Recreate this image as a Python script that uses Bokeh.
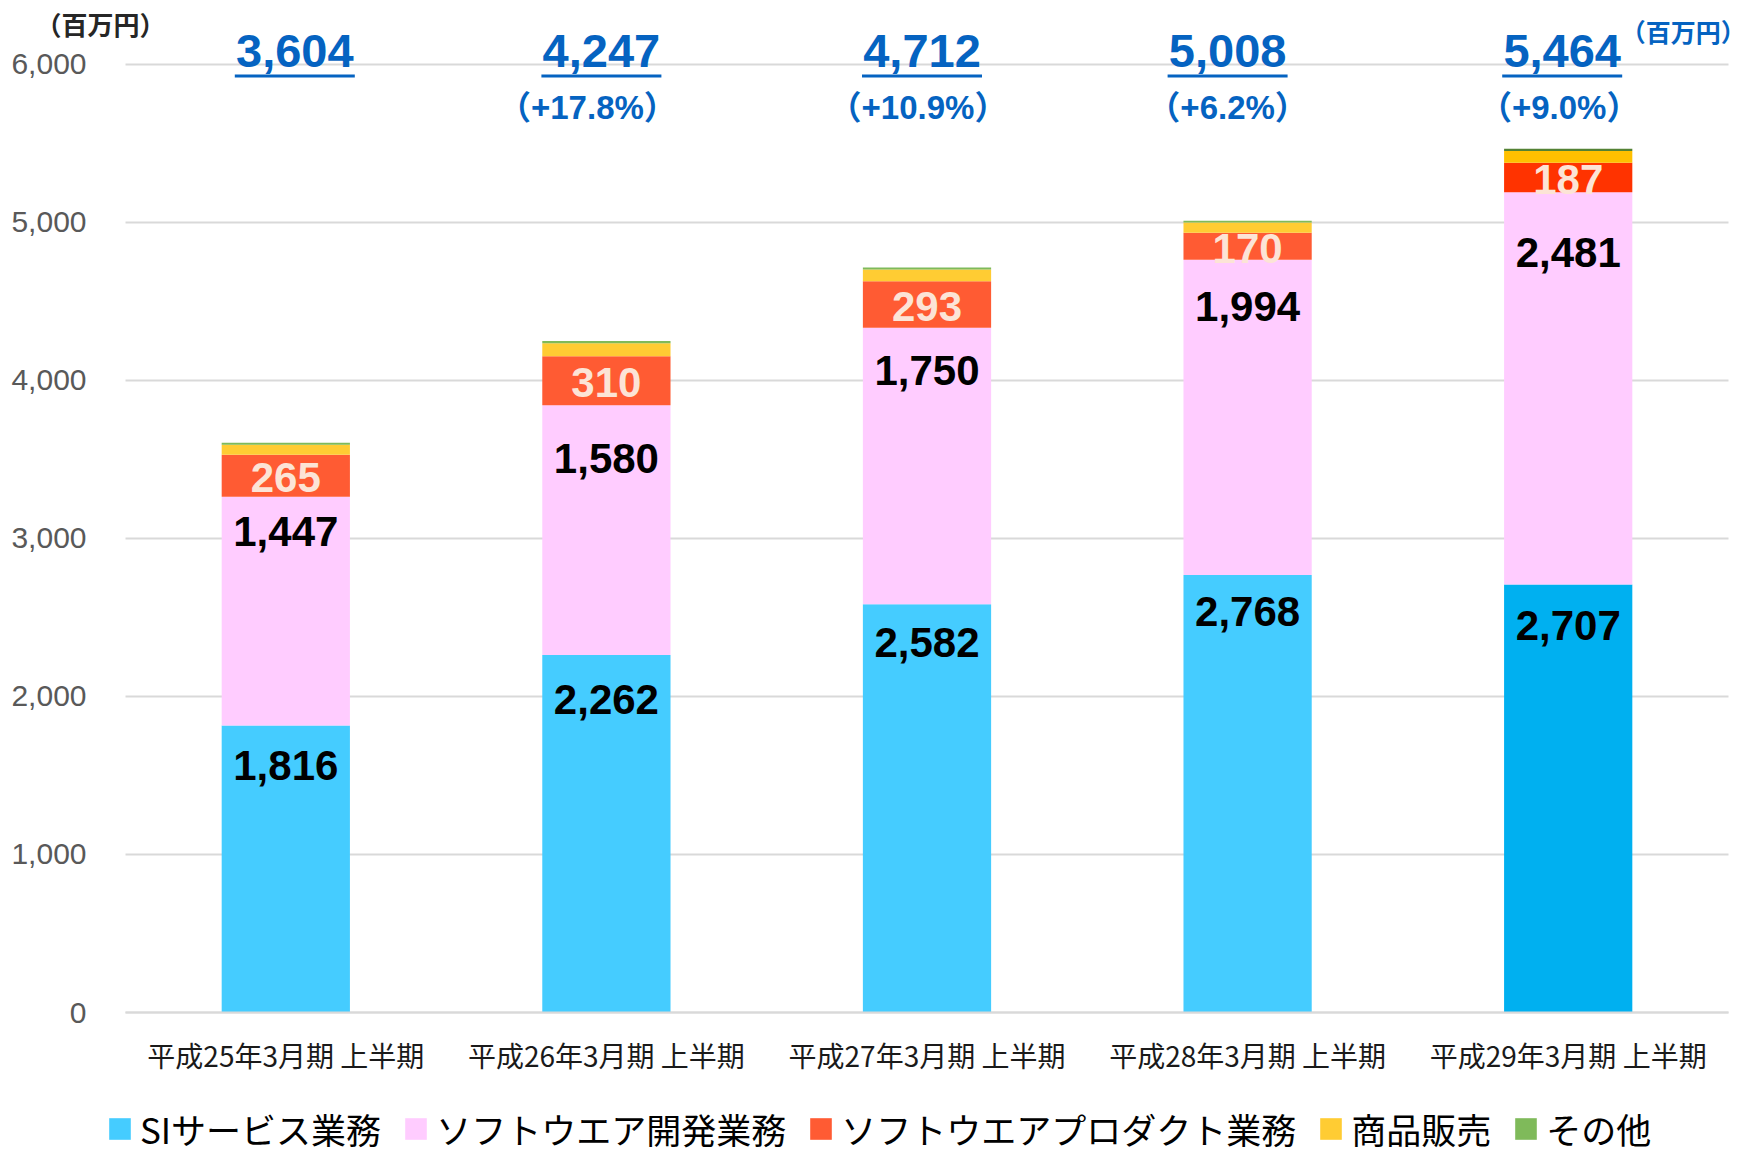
import numpy as np
from bokeh.plotting import figure
from bokeh.models import (Range1d, FixedTicker, Legend, LegendItem, Grid,
                          ColumnDataSource, NumeralTickFormatter)
from bokeh.core.properties import value
from bokeh.embed import file_html
from bokeh.resources import INLINE

# ---------------- data ----------------
periods = ["平成25年3月期 上半期", "平成26年3月期 上半期", "平成27年3月期 上半期",
           "平成28年3月期 上半期", "平成29年3月期 上半期"]
series_names = ["SIサービス業務", "ソフトウエア開発業務", "ソフトウエアプロダクト業務", "商品販売", "その他"]
si_service = [1816, 2262, 2582, 2768, 2707]
software_dev = [1447, 1580, 1750, 1994, 2481]
software_product = [265, 310, 293, 170, 187]
goods_sales = [63, 82, 75, 65, 74]
others = [13, 13, 12, 11, 15]
growth_pct = [17.8, 10.9, 6.2, 9.0]          # for periods 2..5
y_ticks = [0, 1000, 2000, 3000, 4000, 5000, 6000]
unit_label = "（百万円）"

# ---------------- styles ----------------
si_colors = ["#45CCFF"] * 4 + ["#00B0F0"]
dev_colors = ["#FFCCFF"] * 5
prod_colors = ["#FF5B33"] * 4 + ["#FF3300"]
goods_colors = ["#FFCC33"] * 4 + ["#FFC000"]
other_colors = ["#7FBA5A"] * 4 + ["#548235"]
si_label_dy = [40, 45, 38, 37, 41]      # px below segment top
dev_label_dy = [35, 53, 43, 47, 60]
total_label_dx = [9, -5, -5, -20, -6]   # px shift of the total labels
growth_label_dx = [-19, -9, -20, -9]
BLUE = "#0563C1"

# layout geometry (pixels)
W, H = 1746, 1154
AXIS_X_PX, GRID_RIGHT_PX = 125, 1728
ZERO_PX, TOP_TICK_PX = 1012, 63.5
n = len(periods)
px_per_x = (GRID_RIGHT_PX - AXIS_X_PX) / n
px_per_y = (ZERO_PX - TOP_TICK_PX) / y_ticks[-1]
X_START, X_END = -AXIS_X_PX / px_per_x, (W - AXIS_X_PX) / px_per_x
Y_START, Y_END = -(H - ZERO_PX) / px_per_y, ZERO_PX / px_per_y

xs = [i + 0.5 for i in range(n)]

p = figure(width=W, height=H, x_range=Range1d(X_START, X_END), y_range=Range1d(Y_START, Y_END),
           output_backend="svg", toolbar_location=None, title=None,
           min_border_left=0, min_border_right=0, min_border_top=0, min_border_bottom=0)
p.outline_line_color = None
p.background_fill_color = "white"
p.border_fill_color = "white"

# axes (drawn inside the frame at x=0 / y=0)
p.yaxis.fixed_location = 0
p.yaxis.ticker = FixedTicker(ticks=y_ticks)
p.yaxis.formatter = NumeralTickFormatter(format="0,0")
p.yaxis.axis_line_color = None
p.yaxis.major_tick_line_color = None
p.yaxis.minor_tick_line_color = None
p.yaxis.major_tick_out = 0
p.yaxis.major_label_standoff = 39
p.yaxis.major_label_text_font = "Liberation Sans"
p.yaxis.major_label_text_font_size = "30px"
p.yaxis.major_label_text_color = "#595959"

p.xaxis.fixed_location = 0
p.xaxis.ticker = FixedTicker(ticks=xs)
p.xaxis.major_label_overrides = {x: lab for x, lab in zip(xs, periods)}
p.xaxis.bounds = (0, n)
p.xaxis.axis_line_color = "#D9D9D9"
p.xaxis.axis_line_width = 2
p.xaxis.major_tick_line_color = None
p.xaxis.minor_tick_line_color = None
p.xaxis.major_tick_out = 0
p.xaxis.major_label_standoff = 22
p.xaxis.major_label_text_font = "Noto Sans CJK JP"
p.xaxis.major_label_text_font_size = "28px"
p.xaxis.major_label_text_color = "#1A1A1A"

p.xgrid.grid_line_color = None
p.ygrid.ticker = FixedTicker(ticks=y_ticks)
p.ygrid.grid_line_color = "#D9D9D9"
p.ygrid.grid_line_width = 2
if "cross_bounds" in Grid.properties():
    p.ygrid.cross_bounds = (0, n)
else:
    p.ygrid.grid_line_color = None
    p.segment(x0=0, x1=n, y0=y_ticks, y1=y_ticks, line_color="#D9D9D9", line_width=2)

# stacked bars
series = [si_service, software_dev, software_product, goods_sales, others]
colors = [si_colors, dev_colors, prod_colors, goods_colors, other_colors]
bottom = np.zeros(n)
items, tops, bottoms = [], [], []
for name, vals, cols in zip(series_names, series, colors):
    top = bottom + np.array(vals, dtype=float)
    src = ColumnDataSource(dict(x=xs, bottom=bottom, top=top, color=cols))
    r = p.vbar(x="x", bottom="bottom", top="top", width=0.40, source=src,
               fill_color="color", line_color=None)
    items.append(LegendItem(label=name, renderers=[r], index=0))
    bottoms.append(bottom)
    tops.append(top)
    bottom = top
totals = bottom


def fmt(v):
    return "{:,}".format(int(round(v)))


lab_kw = dict(text_align="center", text_baseline="middle", text_font=value("Liberation Sans"),
              text_font_style="bold", text_font_size="42px")
p.text(x=xs, y=tops[0], text=[fmt(v) for v in si_service], y_offset=si_label_dy,
       text_color="black", **lab_kw)
p.text(x=xs, y=tops[1], text=[fmt(v) for v in software_dev], y_offset=dev_label_dy,
       text_color="black", **lab_kw)
p.text(x=xs, y=(bottoms[2] + tops[2]) / 2, text=[fmt(v) for v in software_product],
       y_offset=2, text_color="#FCE4D6", **lab_kw)

# totals on top (underlined) and growth rates
y_top_tick = y_ticks[-1]
p.text(x=xs, y=[y_top_tick] * n, text=[fmt(v) for v in totals],
       x_offset=total_label_dx, y_offset=-13,
       text_align="center", text_baseline="middle", text_font=value("Liberation Sans"),
       text_font_style="bold", text_font_size="47px", text_color=BLUE)
ul_y = y_top_tick - 12 / px_per_y
p.segment(x0=[x + (dx - 60) / px_per_x for x, dx in zip(xs, total_label_dx)],
          x1=[x + (dx + 60) / px_per_x for x, dx in zip(xs, total_label_dx)],
          y0=[ul_y] * n, y1=[ul_y] * n, line_color=BLUE, line_width=3)
p.text(x=xs[1:], y=[y_top_tick] * len(growth_pct),
       text=["（+{:.1f}%）".format(g) for g in growth_pct],
       x_offset=growth_label_dx, y_offset=43,
       text_align="center", text_baseline="middle",
       text_font=value("Liberation Sans, Noto Sans CJK JP"),
       text_font_style="bold", text_font_size="33px", text_color=BLUE)

# unit labels
p.text(x=[0], y=[y_top_tick], text=[unit_label], x_offset=-25, y_offset=-41,
       text_align="center", text_baseline="middle", text_font=value("Noto Sans CJK JP"),
       text_font_style="bold", text_font_size="26px", text_color="#262626")
p.text(x=[xs[-1]], y=[y_top_tick], text=[unit_label], x_offset=115, y_offset=-33,
       text_align="center", text_baseline="middle", text_font=value("Noto Sans CJK JP"),
       text_font_style="bold", text_font_size="25px", text_color=BLUE)

legend = Legend(items=items, orientation="horizontal", location=(106, 0),
                label_text_font="Noto Sans CJK JP", label_text_font_size="35px",
                label_text_color="black", glyph_width=27, glyph_height=27,
                label_standoff=7, spacing=21, padding=0, margin=0,
                border_line_color=None, background_fill_alpha=0)
p.add_layout(legend)

open("out.html", "w").write(file_html(p, INLINE))
